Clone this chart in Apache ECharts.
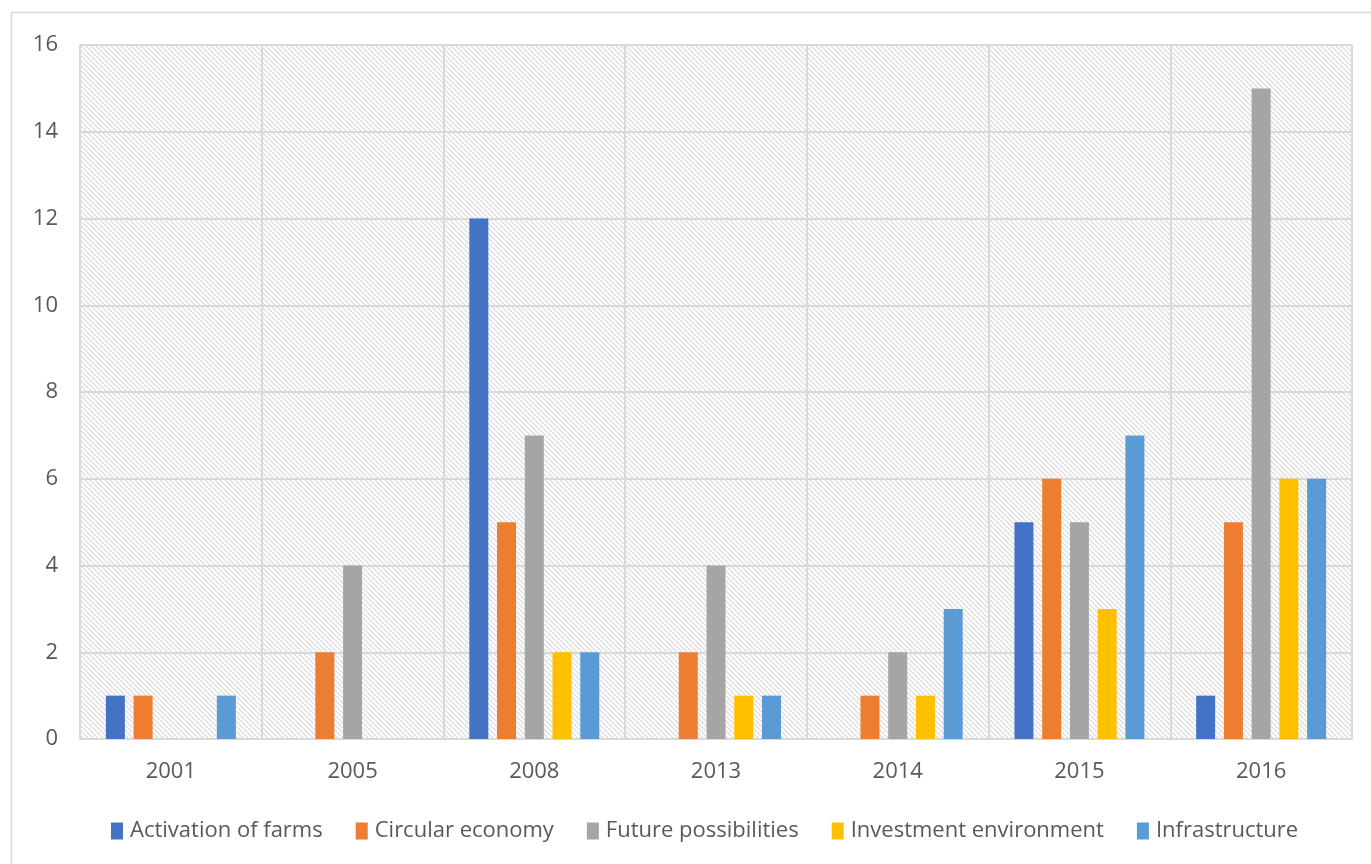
<!DOCTYPE html>
<html>
<head>
<meta charset="utf-8">
<script src="https://cdn.jsdelivr.net/npm/echarts@6/dist/echarts.min.js"></script>
<style>
  html, body { margin: 0; padding: 0; background: #fff; }
  #main { width: 1371px; height: 864px; }
</style>
</head>
<body>
<div id="main"></div>
<script>
(function(){
  var years = ['2001', '2005', '2008', '2013', '2014', '2015', '2016'];
  var seriesNames = ['Activation of farms', 'Circular economy', 'Future possibilities', 'Investment environment', 'Infrastructure'];
  var farms = [1, 0, 12, 0, 0, 5, 1];
  var circular = [1, 2, 5, 2, 1, 6, 5];
  var future = [0, 4, 7, 4, 2, 5, 15];
  var investment = [0, 0, 2, 1, 1, 3, 6];
  var infra = [1, 0, 2, 1, 3, 7, 6];
  var colors = ['#4472C4', '#ED7D31', '#A5A5A5', '#FFC000', '#5B9BD5'];

  // 斜线底纹
  var tile = document.createElement('canvas');
  tile.width = 5; tile.height = 5;
  var ctx = tile.getContext('2d');
  var img = ctx.createImageData(5, 5);
  for (var y = 0; y < 5; y++) {
    for (var x = 0; x < 5; x++) {
      var d = ((x - y) % 5 + 5) % 5;
      var v = d === 0 ? 218 : (d === 1 || d === 4 ? 242 : 255);
      var i = (y * 5 + x) * 4;
      img.data[i] = v; img.data[i + 1] = v; img.data[i + 2] = v; img.data[i + 3] = 255;
    }
  }
  ctx.putImageData(img, 0, 0);

  var myChart = echarts.init(document.getElementById('main'));
  var all = [farms, circular, future, investment, infra];

  var option = {
    animation: false,
    color: colors,
    textStyle: { fontFamily: 'Open Sans' },
    graphic: [{
      type: 'rect',
      shape: { x: 11.5, y: 12.5, width: 1380, height: 880 },
      style: { fill: null, stroke: '#d9d9d9', lineWidth: 1.5 },
      silent: true,
      z: -10
    }],
    grid: {
      left: 80, top: 45, right: 19, bottom: 125,
      show: true,
      backgroundColor: { image: tile, repeat: 'repeat' },
      borderColor: '#d9d9d9',
      borderWidth: 1
    },
    legend: {
      bottom: 17,
      left: 106,
      itemWidth: 12,
      itemHeight: 17,
      itemGap: 33,
      icon: 'rect',
      textStyle: { fontSize: 22, color: '#595959', fontFamily: 'Open Sans', padding: [0, 0, 0, 2] },
      data: seriesNames
    },
    xAxis: {
      type: 'category',
      data: years,
      axisTick: { show: false },
      axisLine: { lineStyle: { color: '#d9d9d9', width: 2 } },
      axisLabel: { color: '#595959', fontSize: 22, margin: 22 },
      splitLine: { show: true, lineStyle: { color: '#d9d9d9', width: 2 } }
    },
    yAxis: {
      type: 'value',
      min: 0, max: 16, interval: 2,
      axisLine: { show: false },
      axisTick: { show: false },
      axisLabel: { color: '#595959', fontSize: 22, margin: 22 },
      splitLine: { lineStyle: { color: '#d9d9d9', width: 2 } }
    },
    series: all.map(function(arr, k) {
      return {
        name: seriesNames[k],
        type: 'bar',
        barWidth: 19,
        barGap: '46%',
        data: arr
      };
    })
  };

  myChart.setOption(option);
})();
</script>
</body>
</html>
